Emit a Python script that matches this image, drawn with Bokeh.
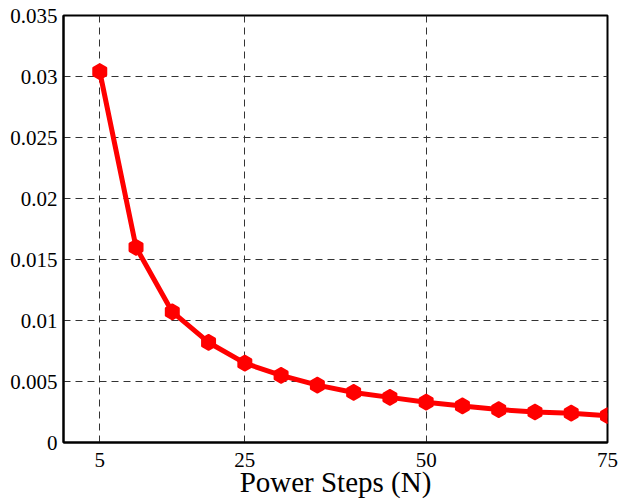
import math
from bokeh.plotting import figure
from bokeh.models import FixedTicker, Range1d, CustomJSTickFormatter
from bokeh.embed import file_html
from bokeh.resources import INLINE

power_steps = [5, 10, 15, 20, 25, 30, 35, 40, 45, 50, 55, 60, 65, 70, 75]
values = [0.0304, 0.0160, 0.0107, 0.0082, 0.0065, 0.0055, 0.0047, 0.0041,
          0.0037, 0.0033, 0.0030, 0.0027, 0.0025, 0.0024, 0.0022]
x_ticks = [5, 25, 50, 75]
y_ticks = [0, 0.005, 0.01, 0.015, 0.02, 0.025, 0.03, 0.035]
y_tick_labels = ["0", "0.005", "0.01", "0.015", "0.02", "0.025", "0.03", "0.035"]
x_label = "Power Steps (N)"

FONT = "Liberation Serif"

p = figure(width=619, height=502, output_backend="svg", toolbar_location=None,
           x_range=Range1d(0, 75), y_range=Range1d(0, 0.035),
           min_border_left=63, min_border_top=15, min_border_right=12, min_border_bottom=60)

p.outline_line_color = "black"
p.outline_line_width = 2
p.background_fill_color = "white"
p.border_fill_color = "white"

p.xaxis.ticker = FixedTicker(ticks=x_ticks)
p.yaxis.ticker = FixedTicker(ticks=y_ticks)
p.yaxis.formatter = CustomJSTickFormatter(
    args=dict(tvals=y_ticks, tlabels=y_tick_labels),
    code="""
    for (let i = 0; i < tvals.length; i++) {
        if (Math.abs(tvals[i] - tick) < 1e-9) { return tlabels[i]; }
    }
    return String(tick);
    """)

for ax in (p.xaxis[0], p.yaxis[0]):
    ax.axis_line_color = "black"
    ax.axis_line_width = 2
    ax.major_tick_in = 0
    ax.major_tick_out = 0
    ax.minor_tick_in = 0
    ax.minor_tick_out = 0
    ax.major_label_text_font = FONT
    ax.major_label_text_font_size = "21px"
    ax.major_label_text_color = "black"

p.yaxis.major_label_standoff = 6
p.xaxis.major_label_standoff = 10
p.xaxis.axis_label = x_label
p.xaxis.axis_label_text_font = FONT
p.xaxis.axis_label_text_font_size = "29px"
p.xaxis.axis_label_text_font_style = "normal"
p.xaxis.axis_label_text_color = "black"
p.xaxis.axis_label_standoff = -4

p.xgrid.ticker = FixedTicker(ticks=[5, 25, 50])
p.ygrid.ticker = FixedTicker(ticks=y_ticks[1:-1])
for g in (p.xgrid, p.ygrid):
    g.grid_line_color = "#333333"
    g.grid_line_width = 1
    g.grid_line_dash = "7 5"

p.line(power_steps, values, line_color="#ff0000", line_width=5)
p.scatter(power_steps, values, marker="hex", size=15, angle=math.pi / 2,
          fill_color="#ff0000", line_color="#ff0000", line_width=2)

open("out.html", "w").write(file_html(p, INLINE))
